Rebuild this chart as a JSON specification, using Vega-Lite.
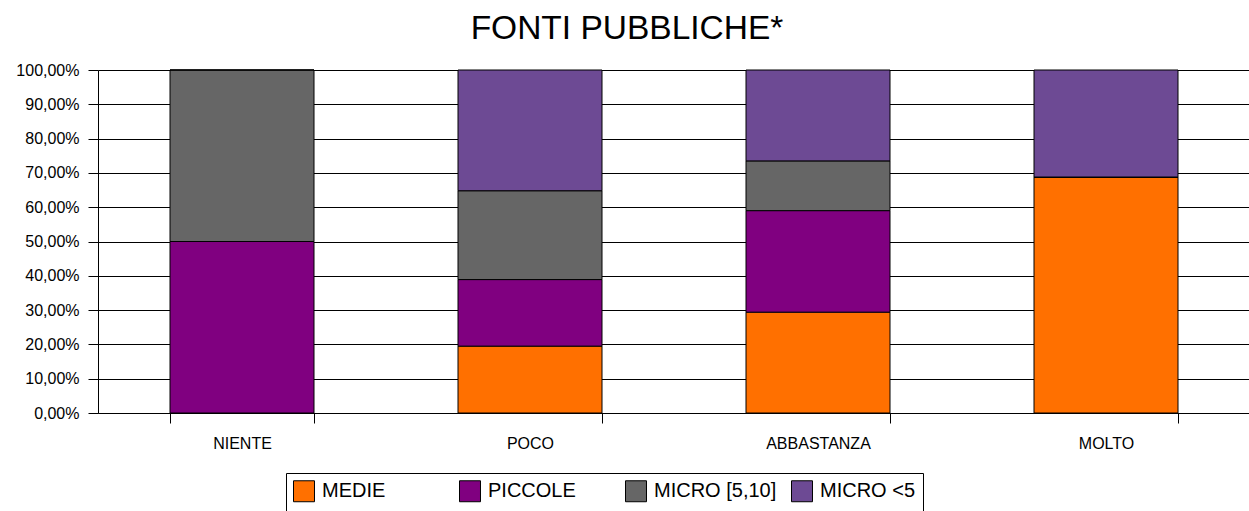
{
  "$schema": "https://vega.github.io/schema/vega-lite/v6.json",
  "autosize": "none",
  "width": 1152,
  "height": 343,
  "padding": {"left": 98, "top": 70, "right": 0, "bottom": 98},
  "background": "white",
  "title": {
    "text": "FONTI PUBBLICHE*",
    "fontSize": 33.5,
    "fontWeight": "normal",
    "font": "Liberation Sans",
    "color": "black",
    "anchor": "middle",
    "dx": -47,
    "offset": 16
  },
  "data": {
    "values": [
      {"cat": "NIENTE", "serie": "MEDIE", "ord": 1, "v": 0.0},
      {"cat": "NIENTE", "serie": "PICCOLE", "ord": 2, "v": 0.5},
      {"cat": "NIENTE", "serie": "MICRO [5,10]", "ord": 3, "v": 0.5},
      {"cat": "NIENTE", "serie": "MICRO <5", "ord": 4, "v": 0.0},
      {"cat": "POCO", "serie": "MEDIE", "ord": 1, "v": 0.195},
      {"cat": "POCO", "serie": "PICCOLE", "ord": 2, "v": 0.194},
      {"cat": "POCO", "serie": "MICRO [5,10]", "ord": 3, "v": 0.259},
      {"cat": "POCO", "serie": "MICRO <5", "ord": 4, "v": 0.352},
      {"cat": "ABBASTANZA", "serie": "MEDIE", "ord": 1, "v": 0.294},
      {"cat": "ABBASTANZA", "serie": "PICCOLE", "ord": 2, "v": 0.296},
      {"cat": "ABBASTANZA", "serie": "MICRO [5,10]", "ord": 3, "v": 0.145},
      {"cat": "ABBASTANZA", "serie": "MICRO <5", "ord": 4, "v": 0.265},
      {"cat": "MOLTO", "serie": "MEDIE", "ord": 1, "v": 0.688},
      {"cat": "MOLTO", "serie": "PICCOLE", "ord": 2, "v": 0.0},
      {"cat": "MOLTO", "serie": "MICRO [5,10]", "ord": 3, "v": 0.0},
      {"cat": "MOLTO", "serie": "MICRO <5", "ord": 4, "v": 0.312}
    ]
  },
  "mark": {"type": "bar", "stroke": "black", "strokeWidth": 1},
  "encoding": {
    "x": {
      "field": "cat",
      "type": "nominal",
      "sort": ["NIENTE", "POCO", "ABBASTANZA", "MOLTO"],
      "scale": {"paddingInner": 0.5, "paddingOuter": 0.25},
      "axis": {
        "title": null,
        "labelAngle": 0,
        "labelFont": "Liberation Sans",
        "labelFontSize": 16,
        "labelColor": "black",
        "labelPadding": 12,
        "domainColor": "black",
        "tickColor": "black",
        "tickBand": "extent",
        "tickSize": 10,
        "grid": false
      }
    },
    "y": {
      "field": "v",
      "type": "quantitative",
      "stack": "zero",
      "scale": {"domain": [0, 1], "nice": false},
      "axis": {
        "title": null,
        "values": [0, 0.1, 0.2, 0.3, 0.4, 0.5, 0.6, 0.7, 0.8, 0.9, 1],
        "labelExpr": "replace(format(datum.value, '.2%'), '.', ',')",
        "labelFont": "Liberation Sans",
        "labelFontSize": 16,
        "labelColor": "black",
        "labelPadding": 9,
        "domainColor": "black",
        "tickColor": "black",
        "tickSize": 10,
        "grid": true,
        "gridColor": "black",
        "gridOpacity": 1
      }
    },
    "color": {
      "field": "serie",
      "type": "nominal",
      "scale": {
        "domain": ["MEDIE", "PICCOLE", "MICRO [5,10]", "MICRO <5"],
        "range": ["#FF7000", "#800080", "#666666", "#6D4A94"]
      },
      "legend": {
        "title": null,
        "orient": "none",
        "legendX": 188,
        "legendY": 403,
        "direction": "horizontal",
        "columns": 4,
        "gridAlign": "all",
        "symbolType": "square",
        "symbolSize": 440,
        "symbolStrokeColor": "black",
        "symbolStrokeWidth": 1,
        "labelFont": "Liberation Sans",
        "labelFontSize": 20,
        "labelColor": "black",
        "labelOffset": 7,
        "columnPadding": 12,
        "strokeColor": "black",
        "padding": 7
      }
    },
    "order": {"field": "ord", "type": "quantitative"}
  },
  "config": {
    "view": {"stroke": null}
  }
}
